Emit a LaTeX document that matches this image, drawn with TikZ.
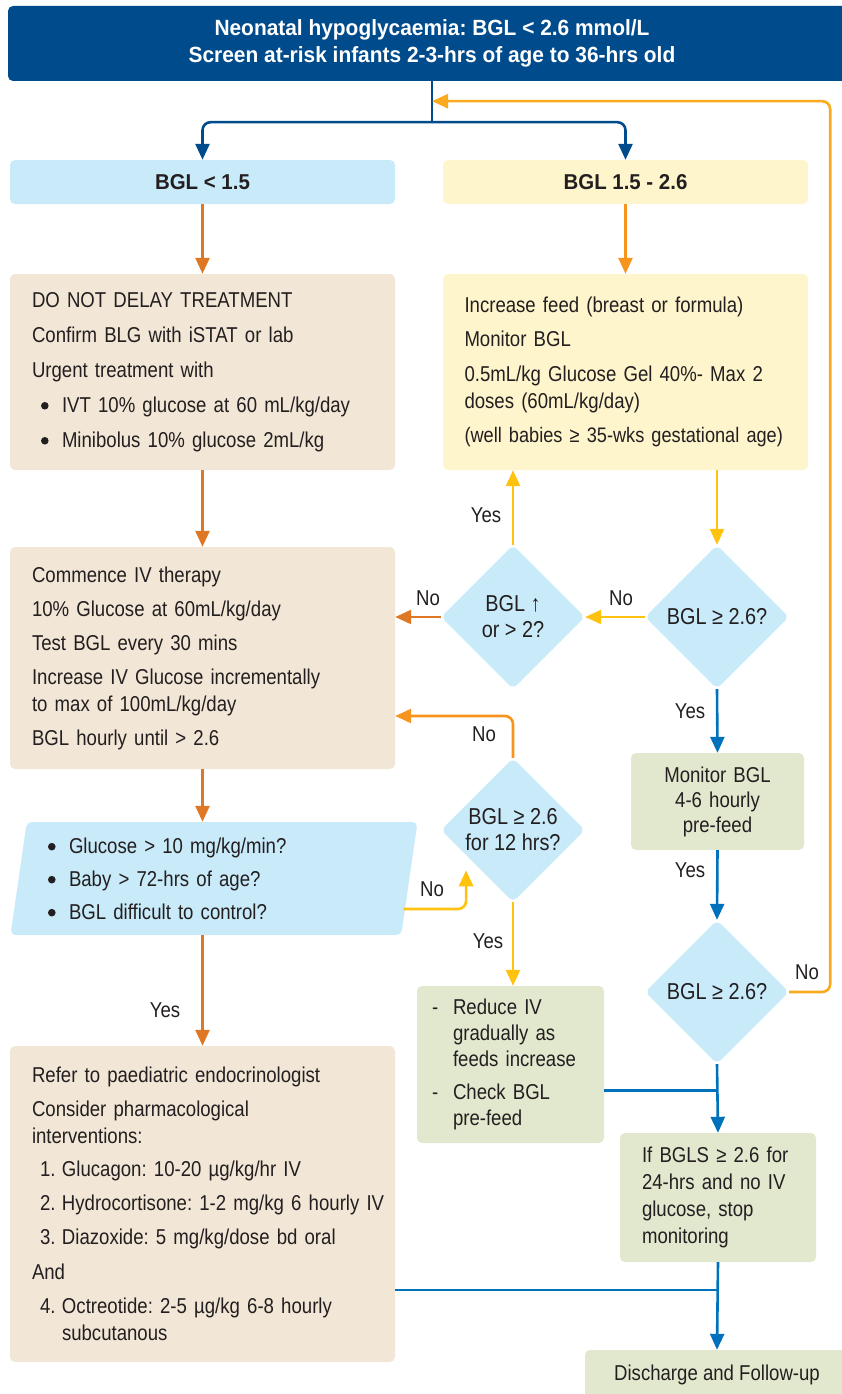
\documentclass[tikz,border=0pt]{standalone}
\usepackage{fontspec}
\setmainfont{Liberation Sans}[FakeStretch=0.865]
\newfontfamily\hdrfont{Liberation Sans}[FakeStretch=0.95]
\usetikzlibrary{positioning,arrows.meta,shapes.geometric,calc}

\definecolor{hdrblue}{RGB}{0,75,140}
\definecolor{arrblue}{RGB}{0,114,188}
\definecolor{qblue}{RGB}{200,234,249}
\definecolor{tanbox}{RGB}{242,231,214}
\definecolor{yelbox}{RGB}{255,245,205}
\definecolor{grnbox}{RGB}{226,232,206}
\definecolor{darkor}{RGB}{222,120,36}
\definecolor{lightor}{RGB}{247,148,29}
\definecolor{retor}{RGB}{249,170,30}
\definecolor{yel}{RGB}{255,194,14}
\definecolor{ink}{RGB}{35,31,32}

\newcommand{\bodyfont}{\fontsize{21.5}{27}\selectfont\frenchspacing}
\newcommand{\smallfont}{\fontsize{21}{24}\selectfont}
\newcommand{\bul}{\hspace*{9pt}\makebox[21pt][l]{\tikz[baseline=-6.5pt]\fill[ink] (0,0) circle[radius=3.8pt];}}
\newcommand{\nmb}[1]{\hspace*{8pt}\makebox[22pt][l]{#1}}
\newcommand{\dsh}{\makebox[21pt][l]{-}}

\begin{document}
\begin{tikzpicture}[
    x=1pt, y=-1pt,
    font=\bodyfont, text=ink,
    panel/.style={rounded corners=5pt, inner xsep=22pt, inner ysep=2pt, align=left},
    tag/.style={rounded corners=5pt, minimum height=44pt,
                font=\hdrfont\bfseries\fontsize{21.5}{27}\selectfont},
    query/.style={diamond, aspect=1, fill=qblue, rounded corners=6pt, inner sep=0pt,
                  minimum width=144pt, minimum height=144pt, align=center,
                  font=\fontsize{23}{26}\selectfont},
    lbl/.style={inner sep=1pt},
    conn/.style={line width=2.6pt, rounded corners=8pt,
                 -{Triangle[length=16pt,width=14pt]}},
    link/.style={line width=2.6pt},
  ]
  \useasboundingbox (0,0) rectangle (841,1394);

  % --- header and first split ---
  \node[fill=hdrblue, rounded corners=5pt, minimum width=848pt, minimum height=75pt,
        text=white, align=center,
        font=\hdrfont\bfseries\fontsize{22}{27}\selectfont\frenchspacing]
    (hdr) at (432,43.5)
    {Neonatal hypoglycaemia: BGL < 2.6 mmol/L\\Screen at-risk infants 2-3-hrs of age to 36-hrs old};
  \node[tag, fill=qblue, minimum width=385pt] (lo) at (202.5,182) {BGL < 1.5};
  \node[tag, fill=yelbox, minimum width=365pt] (mid) at (625.5,182) {BGL 1.5 - 2.6};
  \coordinate (split) at ($(hdr.south)+(0,41)$);
  \coordinate (back) at ($(hdr.south)+(0,20)$);
  \draw[link, hdrblue] (hdr.south) -- (split);
  \draw[conn, hdrblue] (split) -| (lo.north);
  \draw[conn, hdrblue] (split) -| (mid.north);

  % --- left column: BGL < 1.5 ---
  \node[panel, fill=tanbox, text width=341pt, minimum height=196pt] (treat) at (202.5,372)
    {DO NOT DELAY TREATMENT\\[8pt]
     Confirm BLG with iSTAT or lab\\[8pt]
     Urgent treatment with\\[8pt]
     \bul IVT 10\% glucose at 60 mL/kg/day\\[8pt]
     \bul Minibolus 10\% glucose 2mL/kg};
  \node[panel, fill=tanbox, text width=341pt, minimum height=222pt] (iv) at (202.5,658)
    {Commence IV therapy\\[7pt]
     10\% Glucose at 60mL/kg/day\\[7pt]
     Test BGL every 30 mins\\[7pt]
     Increase IV Glucose incrementally\\
     to max of 100mL/kg/day\\[7pt]
     BGL hourly until > 2.6};
  \node[trapezium, trapezium left angle=80, trapezium right angle=100,
        trapezium stretches=true, fill=qblue, rounded corners=5pt,
        minimum width=408pt, minimum height=113pt, inner xsep=4pt,
        text width=350pt, align=left] (chk) at (214,878.5)
    {\bul Glucose > 10 mg/kg/min?\\[6pt]
     \bul Baby > 72-hrs of age?\\[6pt]
     \bul BGL difficult to control?};
  \node[panel, fill=tanbox, text width=341pt, minimum height=316pt] (refer) at (202.5,1204)
    {Refer to paediatric endocrinologist\\[7pt]
     Consider pharmacological\\
     interventions:\\[6pt]
     \nmb{1.}Glucagon: 10-20 µg/kg/hr IV\\[7pt]
     \mbox{\nmb{2.}Hydrocortisone: 1-2 mg/kg 6 hourly IV}\\[7pt]
     \nmb{3.}Diazoxide: 5 mg/kg/dose bd oral\\[8pt]
     And\\[7pt]
     \nmb{4.}Octreotide: 2-5 µg/kg 6-8 hourly\\
     \hspace*{30pt}subcutanous};
  \draw[conn, darkor] (lo.south) -- (treat.north);
  \draw[conn, darkor] (treat.south) -- (iv.north);
  \draw[conn, darkor] (iv.south) -- (iv.south |- chk.north);
  \draw[conn, darkor] (refer.north |- chk.south) -- (refer.north);
  \node[lbl] (yes1) at (165,1010) {Yes};

  % --- right column: BGL 1.5 - 2.6 ---
  \node[panel, fill=yelbox, inner xsep=21.5pt, text width=322pt, minimum height=196pt] (feed) at (625.5,372)
    {Increase feed (breast or formula)\\[7pt]
     Monitor BGL\\[8pt]
     \makebox[319pt][s]{0.5mL/kg Glucose Gel 40\%- Max 2}\\
     doses (60mL/kg/day)\\[7pt]
     {\smallfont (well babies ≥ 35-wks gestational age)}};
  \node[query] (d1) at (513,617) {BGL \textbf{↑}\\or > 2?};
  \node[query] (d2) at (717,617) {BGL ≥ 2.6?};
  \node[query] (d4) at (513,830) {BGL ≥ 2.6\\for 12 hrs?};
  \node[query] (d3) at (717,992) {BGL ≥ 2.6?};
  \node[panel, fill=grnbox, align=center, text width=129pt, minimum height=97pt,
        font=\fontsize{21.5}{25}\selectfont] (mon) at (717.5,801.5)
    {Monitor BGL\\4-6 hourly\\pre-feed};
  \node[panel, fill=grnbox, inner xsep=15pt, text width=157pt, minimum height=157pt,
        font=\fontsize{21.5}{26}\selectfont] (redu) at (510.5,1064.5)
    {\dsh Reduce IV\\
     \hspace*{21pt}gradually as\\
     \hspace*{21pt}feeds increase\\[7pt]
     \dsh Check BGL\\
     \hspace*{21pt}pre-feed};
  \node[panel, fill=grnbox, text width=152pt, minimum height=129pt] (stop) at (718,1197.5)
    {If BGLS ≥ 2.6 for\\24-hrs and no IV\\glucose, stop\\monitoring};
  \node[panel, fill=grnbox, align=center, minimum width=264pt, minimum height=50pt] (dis) at (717,1375)
    {Discharge and Follow-up};

  \draw[conn, lightor] (mid.south) -- (feed.north);
  \draw[conn, yel] (d2.north |- feed.south) -- (d2.north);
  \draw[conn, yel] (d2.west) -- (d1.east);
  \draw[conn, yel] (d1.north) -- (d1.north |- feed.south);
  \draw[conn, darkor] (d1.west) -- (d1.west -| iv.east);
  \draw[conn, lightor] (d4.north) |- ([yshift=-58pt]iv.east);
  \draw[conn, yel] ([xshift=-6pt, yshift=-30.5pt]chk.east) -| ($(d4.west)!0.35!(d4.south)+(0,15)$);
  \draw[conn, yel] (d4.south) -- (d4.south |- redu.north);
  \draw[conn, arrblue] (d2.south) -- (mon.north);
  \draw[conn, arrblue] (mon.south) -- (d3.north);
  \draw[conn, arrblue] (d3.south) -- (stop.north);
  \draw[link, arrblue] ([yshift=-26pt]redu.east) -- ([yshift=-26pt]redu.east -| stop.north);
  \draw[conn, arrblue] (stop.south) -- (dis.north);
  \draw[link, arrblue] ([yshift=-86pt]refer.east) -- ([yshift=-86pt]refer.east -| stop.south);
  \draw[conn, retor] (d3.east) -- ++(41,0) |- (back);

  % --- yes / no labels ---
  \node[lbl] (no1) at (428,598) {No};
  \node[lbl] (no2) at (621,598) {No};
  \node[lbl] (yes2) at (486,515) {Yes};
  \node[lbl] (yes3) at (690,711) {Yes};
  \node[lbl] (yes4) at (690,870) {Yes};
  \node[lbl] (no3) at (807,972) {No};
  \node[lbl] (no4) at (484,734) {No};
  \node[lbl] (yes5) at (488,941) {Yes};
  \node[lbl] (no5) at (432,889) {No};
\end{tikzpicture}
\end{document}
